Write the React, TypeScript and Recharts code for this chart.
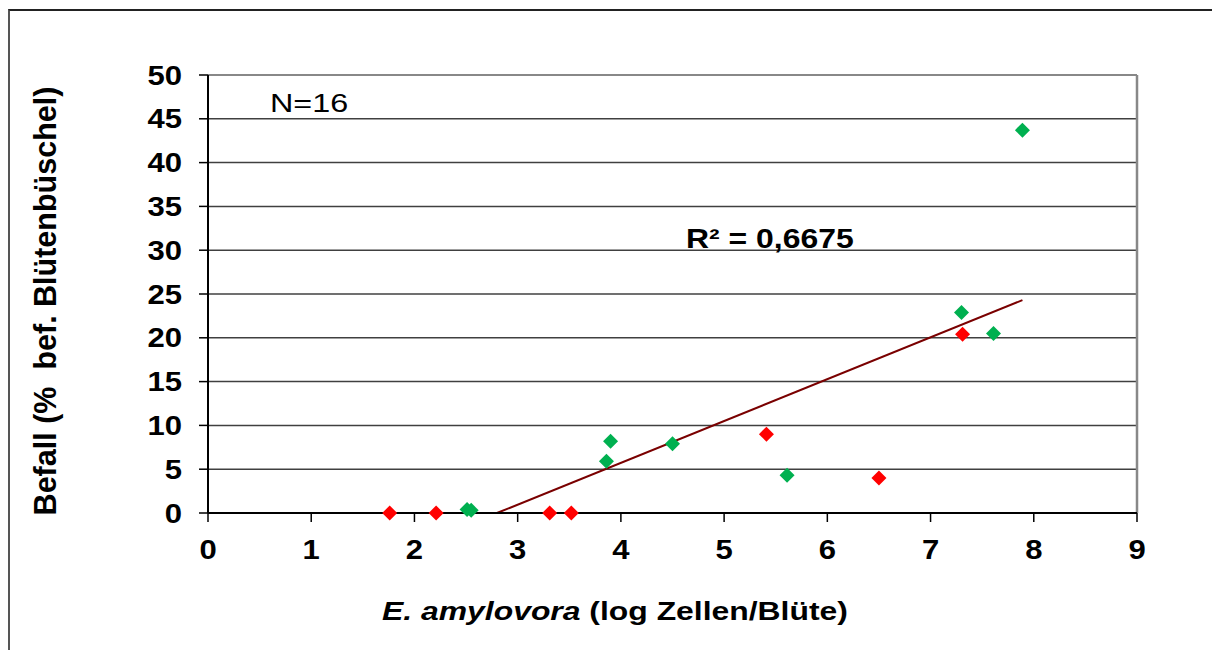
import React from "react";
import {
  ScatterChart,
  Scatter,
  XAxis,
  YAxis,
  CartesianGrid,
  ReferenceLine,
} from "recharts";

// log cells per blossom vs. infestation (%)
const redX = [1.76, 2.21, 3.31, 3.52, 5.41, 6.5, 7.31];
const redY = [0, 0, 0, 0, 9.0, 4.0, 20.4];
const greenX = [2.51, 2.55, 3.86, 3.9, 4.5, 5.61, 7.3, 7.61, 7.89];
const greenY = [0.4, 0.3, 5.9, 8.2, 7.9, 4.3, 22.9, 20.5, 43.7];
const trendX = [2.8, 7.89];
const trendY = [0, 24.3];
const xTicks = [0, 1, 2, 3, 4, 5, 6, 7, 8, 9];
const yTicks = [0, 5, 10, 15, 20, 25, 30, 35, 40, 45, 50];

const FONT = "'Liberation Sans', Arial, sans-serif";

const redData = redX.map((x, i) => ({ x, y: redY[i] }));
const greenData = greenX.map((x, i) => ({ x, y: greenY[i] }));

function Diamond(props: any) {
  const { cx, cy, fill } = props;
  const r = 7.5;
  return (
    <polygon
      points={`${cx},${cy - r} ${cx + r},${cy} ${cx},${cy + r} ${cx - r},${cy}`}
      fill={fill}
    />
  );
}

// the source picture is a bit stretched sideways, so the labels are widened
function XTick(props: any) {
  const { x, y, payload } = props;
  return (
    <g transform={`translate(${x},${y}) scale(1.15,1)`}>
      <text
        x={0}
        y={0}
        dy="0.71em"
        textAnchor="middle"
        fontSize={27}
        fontWeight={700}
        fontFamily={FONT}
        fill="#000"
      >
        {payload.value}
      </text>
    </g>
  );
}

function YTick(props: any) {
  const { x, y, payload } = props;
  return (
    <g transform={`translate(${x},${y}) scale(1.15,1)`}>
      <text
        x={0}
        y={0}
        dy="0.355em"
        textAnchor="end"
        fontSize={27}
        fontWeight={700}
        fontFamily={FONT}
        fill="#000"
      >
        {payload.value}
      </text>
    </g>
  );
}

export default function App() {
  return (
    <div
      style={{
        position: "fixed",
        left: 0,
        top: 0,
        width: 1212,
        height: 650,
        background: "#fff",
        fontFamily: FONT,
        overflow: "hidden",
      }}
    >
      {/* outer frame (only top and left edges are in view) */}
      <div
        style={{
          position: "absolute",
          left: 8,
          top: 9,
          width: 1300,
          height: 700,
          borderTop: "2px solid #222",
          borderLeft: "2px solid #555",
        }}
      />

      <div style={{ position: "absolute", left: 0, top: 0 }}>
        <ScatterChart
          width={1212}
          height={650}
          margin={{ top: 75, right: 75, bottom: 97, left: 148 }}
        >
          <CartesianGrid vertical={false} stroke="#404040" strokeWidth={1.5} />
          <XAxis
            type="number"
            dataKey="x"
            domain={[0, 9]}
            ticks={xTicks}
            interval={0}
            height={40}
            axisLine={{ stroke: "#000", strokeWidth: 2 }}
            tickLine={{ stroke: "#000", strokeWidth: 1.5 }}
            tickSize={9}
            tickMargin={18}
            tick={XTick}
          />
          <YAxis
            type="number"
            dataKey="y"
            domain={[0, 50]}
            ticks={yTicks}
            interval={0}
            width={60}
            axisLine={{ stroke: "#000", strokeWidth: 2 }}
            tickLine={{ stroke: "#000", strokeWidth: 1.5 }}
            tickSize={9}
            tickMargin={17}
            tick={YTick}
          />
          <ReferenceLine y={50} stroke="#888" strokeWidth={2} />
          <ReferenceLine x={9} stroke="#888" strokeWidth={2.5} />
          <ReferenceLine
            segment={[
              { x: trendX[0], y: trendY[0] },
              { x: trendX[1], y: trendY[1] },
            ]}
            stroke="#7a0000"
            strokeWidth={2}
          />
          <Scatter
            data={greenData}
            fill="#00b050"
            shape={Diamond}
            isAnimationActive={false}
          />
          <Scatter
            data={redData}
            fill="#ff0000"
            shape={Diamond}
            isAnimationActive={false}
          />
        </ScatterChart>
      </div>

      <div
        style={{
          position: "absolute",
          left: 270,
          top: 90,
          fontSize: 26.5,
          lineHeight: 1,
          color: "#000",
          transform: "scaleX(1.22)",
          transformOrigin: "left center",
        }}
      >
        N=16
      </div>
      <div
        style={{
          position: "absolute",
          left: 686,
          top: 225,
          fontSize: 28,
          fontWeight: 700,
          lineHeight: 1,
          color: "#000",
          transform: "scaleX(1.14)",
          transformOrigin: "left center",
          whiteSpace: "pre",
        }}
      >
        R² = 0,6675
      </div>

      {/* y axis title */}
      <div
        style={{
          position: "absolute",
          left: 45 - 300,
          top: 301 - 16,
          width: 600,
          textAlign: "center",
          fontSize: 30.5,
          fontWeight: 700,
          lineHeight: "32px",
          transform: "rotate(-90deg)",
          whiteSpace: "pre",
        }}
      >
        {"Befall (%  bef. Blütenbüschel)"}
      </div>

      {/* x axis title */}
      <div
        style={{
          position: "absolute",
          left: 615 - 300,
          top: 611 - 14,
          width: 600,
          textAlign: "center",
          fontSize: 25.5,
          fontWeight: 700,
          lineHeight: "28px",
          transform: "scaleX(1.25)",
          whiteSpace: "pre",
        }}
      >
        <i>E. amylovora</i> (log Zellen/Blüte)
      </div>
    </div>
  );
}
